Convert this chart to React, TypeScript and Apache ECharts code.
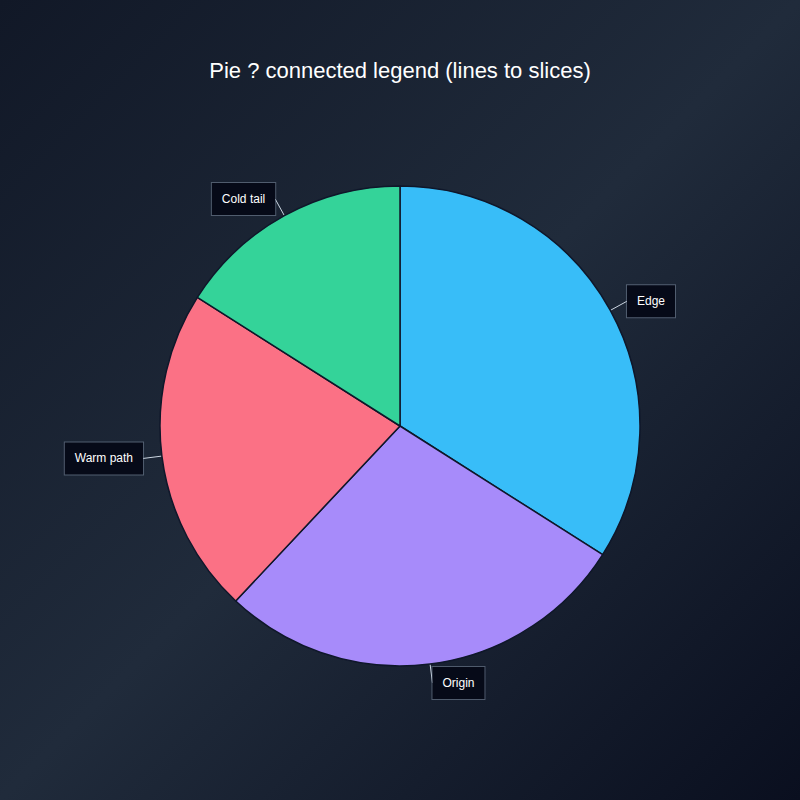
import React, { useEffect, useRef } from 'react'
import * as echarts from 'echarts'

const sliceNames = ['Edge', 'Origin', 'Warm path', 'Cold tail']
const sliceValues = [34, 28, 22, 16]
const sliceColors = ['#38bdf8', '#a78bfa', '#fb7185', '#34d399']

function App() {
  const chartRef = useRef<HTMLDivElement>(null)

  useEffect(() => {
    document.body.style.margin = '0'
    const chart = echarts.init(chartRef.current, null, { renderer: 'svg' })

    chart.setOption({
      animation: false,
      backgroundColor: new echarts.graphic.LinearGradient(0, 0, 1, 1, [
        { offset: 0, color: '#111827' },
        { offset: 0.5, color: '#202b3b' },
        { offset: 1, color: '#0a0f1f' },
      ]),
      title: {
        text: 'Pie ? connected legend (lines to slices)',
        left: 'center',
        top: 54,
        textStyle: {
          color: '#ffffff',
          fontSize: 22,
          fontWeight: 'normal',
          fontFamily: 'Liberation Sans, Arial, sans-serif',
        },
      },
      series: [
        {
          type: 'pie',
          center: [400, 426],
          radius: 240,
          startAngle: 90,
          clockwise: true,
          itemStyle: {
            borderColor: '#0f172a',
            borderWidth: 1.5,
          },
          label: {
            show: true,
            position: 'outside',
            distanceToLabelLine: 0,
            color: '#ffffff',
            fontSize: 12,
            fontFamily: 'Liberation Sans, Arial, sans-serif',
            lineHeight: 12,
            backgroundColor: '#060a18',
            borderColor: 'rgba(148,163,184,0.45)',
            borderWidth: 1,
            padding: [10, 10],
          },
          labelLine: {
            show: true,
            length: 19,
            length2: 0,
            lineStyle: { color: '#cbd5e1', width: 1 },
          },
          data: sliceNames.map((name, i) => ({
            name,
            value: sliceValues[i],
            itemStyle: { color: sliceColors[i] },
          })),
        },
      ],
    })

    return () => {
      chart.dispose()
    }
  }, [])

  return <div ref={chartRef} style={{ width: '800px', height: '800px' }}></div>
}

export default App
